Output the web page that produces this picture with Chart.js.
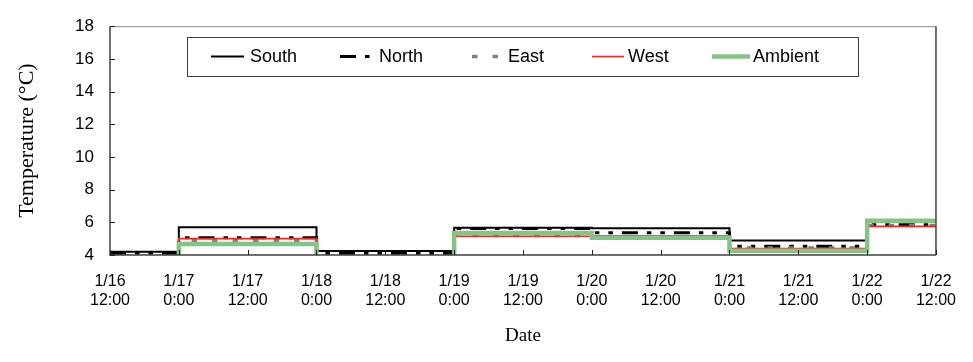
<!DOCTYPE html>
<html>
<head>
<meta charset="utf-8">
<script src="https://cdn.jsdelivr.net/npm/chart.js@4/dist/chart.umd.min.js"></script>
<style>
  html, body { margin: 0; padding: 0; background: #fff; }
</style>
</head>
<body>
<canvas id="c" width="973" height="362"></canvas>
<script>
// Hours after 1/16 12:00 at which each daily mean starts (held until the next entry)
const hours   = [0, 12, 36, 60, 84, 108, 132, 144];
const south   = [4.20, 5.70, 4.25, 5.66, 5.63, 4.88, 6.05, 6.05];
const north   = [4.10, 5.05, 4.10, 5.62, 5.36, 4.53, 5.85, 5.85];
const east    = [3.60, 4.88, 3.60, 5.20, 5.08, 4.43, 5.80, 5.80];
const west    = [3.70, 5.00, 3.70, 5.15, 5.18, 4.40, 5.75, 5.75];
const ambient = [3.30, 4.68, 3.30, 5.34, 5.05, 4.26, 6.10, 6.10];

const seriesNames = ["South", "North", "East", "West", "Ambient"];
const tickLabels = [
  ["1/16", "12:00"], ["1/17", "0:00"], ["1/17", "12:00"], ["1/18", "0:00"],
  ["1/18", "12:00"], ["1/19", "0:00"], ["1/19", "12:00"], ["1/20", "0:00"],
  ["1/20", "12:00"], ["1/21", "0:00"], ["1/21", "12:00"], ["1/22", "0:00"],
  ["1/22", "12:00"]
];
const yTicks = [4, 6, 8, 10, 12, 14, 16, 18];

const pts = arr => hours.map((h, i) => ({ x: h, y: arr[i] }));

const styles = [
  { color: "#000000", width: 2,   dash: [],                      order: 5 },
  { color: "#000000", width: 3,   dash: [16, 9, 4.5, 9, 4.5, 9], order: 4 },
  { color: "#808080", width: 3.5, dash: [5.5, 15],               order: 3 },
  { color: "#f02828", width: 1.6, dash: [],                      order: 2 },
  { color: "#86c486", width: 4.5, dash: [],                      order: 1 }
];
const values = [south, north, east, west, ambient];

// each value holds until the next hour entry, then the line jumps
const datasets = values.map((v, i) => ({
  label: seriesNames[i],
  data: pts(v),
  stepped: "before",
  borderColor: styles[i].color,
  borderWidth: styles[i].width,
  borderDash: styles[i].dash,
  borderCapStyle: "butt",
  pointRadius: 0,
  fill: false,
  order: styles[i].order
}));

// Short tick marks pointing into the plot, plus the plot frame
const frameAndTicks = {
  id: "frameAndTicks",
  afterDatasetsDraw(chart) {
    const { ctx, chartArea: a, scales } = chart;
    ctx.save();
    ctx.lineWidth = 1;
    ctx.strokeStyle = "#8c8c8c";
    ctx.beginPath();
    ctx.moveTo(a.left, a.top + 0.5);
    ctx.lineTo(a.right, a.top + 0.5);
    ctx.stroke();
    ctx.strokeStyle = "#404040";
    ctx.lineWidth = 1.5;
    ctx.beginPath();
    ctx.moveTo(a.right, a.top);
    ctx.lineTo(a.right, a.bottom);
    ctx.moveTo(a.left, a.top);
    ctx.lineTo(a.left, a.bottom);
    ctx.lineTo(a.right, a.bottom);
    ctx.stroke();
    ctx.lineWidth = 1;
    ctx.strokeStyle = "#202020";
    ctx.beginPath();
    scales.x.ticks.forEach(t => {
      const x = Math.round(scales.x.getPixelForValue(t.value)) + 0.5;
      ctx.moveTo(x, a.bottom);
      ctx.lineTo(x, a.bottom - 5);
    });
    scales.y.ticks.forEach(t => {
      const y = Math.round(scales.y.getPixelForValue(t.value)) + 0.5;
      ctx.moveTo(a.left, y);
      ctx.lineTo(a.left + 5, y);
    });
    ctx.stroke();
    ctx.restore();
  }
};

// Boxed legend inside the plot
const boxedLegend = {
  id: "boxedLegend",
  afterDraw(chart) {
    const { ctx } = chart;
    const box = { left: 187, top: 37, right: 858, bottom: 76 };
    const items = [
      { x0: 211, x1: 244, tx: 250 },
      { x0: 340, x1: 371, tx: 379 },
      { x0: 472, x1: 499, tx: 508 },
      { x0: 592, x1: 624, tx: 628 },
      { x0: 712, x1: 750, tx: 753 }
    ];
    ctx.save();
    ctx.fillStyle = "#fff";
    ctx.fillRect(box.left, box.top, box.right - box.left, box.bottom - box.top);
    ctx.strokeStyle = "#404040";
    ctx.lineWidth = 1;
    ctx.strokeRect(box.left + 0.5, box.top + 0.5, box.right - box.left, box.bottom - box.top);
    const cy = (box.top + box.bottom) / 2;
    chart.data.datasets.forEach((ds, i) => {
      const it = items[i];
      ctx.strokeStyle = ds.borderColor;
      ctx.lineWidth = ds.borderWidth;
      ctx.setLineDash(ds.borderDash);
      ctx.lineCap = "butt";
      ctx.beginPath();
      ctx.moveTo(it.x0, cy);
      ctx.lineTo(it.x1, cy);
      ctx.stroke();
      ctx.setLineDash([]);
      ctx.fillStyle = "#000";
      ctx.font = "18px 'Liberation Sans', Arial, sans-serif";
      ctx.textBaseline = "middle";
      ctx.textAlign = "left";
      ctx.fillText(ds.label, it.tx, cy + 1);
    });
    ctx.restore();
  }
};

new Chart(document.getElementById("c"), {
  type: "line",
  data: { datasets },
  options: {
    responsive: false,
    animation: false,
    events: [],
    layout: { padding: { left: 10, top: 18, right: 31, bottom: 11 } },
    plugins: { legend: { display: false }, tooltip: { enabled: false } },
    scales: {
      x: {
        type: "linear",
        min: 0,
        max: 144,
        afterFit: s => { s.height = 96; },
        afterBuildTicks: s => { s.ticks = tickLabels.map((_, i) => ({ value: i * 12 })); },
        ticks: {
          autoSkip: false,
          maxRotation: 0,
          padding: 17,
          color: "#000",
          font: { family: "'Liberation Sans', Arial, sans-serif", size: 16, lineHeight: 1.2 },
          callback: v => tickLabels[Math.round(v / 12)]
        },
        grid: { display: false, drawTicks: false },
        border: { display: false },
        title: {
          display: true,
          text: "Date",
          color: "#000",
          font: { family: "'Liberation Serif', 'Times New Roman', serif", size: 19 }
        }
      },
      y: {
        min: 4,
        max: 18,
        afterFit: s => { s.width = 100; },
        afterBuildTicks: s => { s.ticks = yTicks.map(v => ({ value: v })); },
        ticks: {
          padding: 16,
          color: "#000",
          font: { family: "'Liberation Sans', Arial, sans-serif", size: 17 }
        },
        grid: { display: false, drawTicks: false },
        border: { display: false },
        title: {
          display: true,
          text: "Temperature (°C)",
          color: "#000",
          font: { family: "'Liberation Serif', 'Times New Roman', serif", size: 22 }
        }
      }
    }
  },
  plugins: [frameAndTicks, boxedLegend]
});
</script>
</body>
</html>
